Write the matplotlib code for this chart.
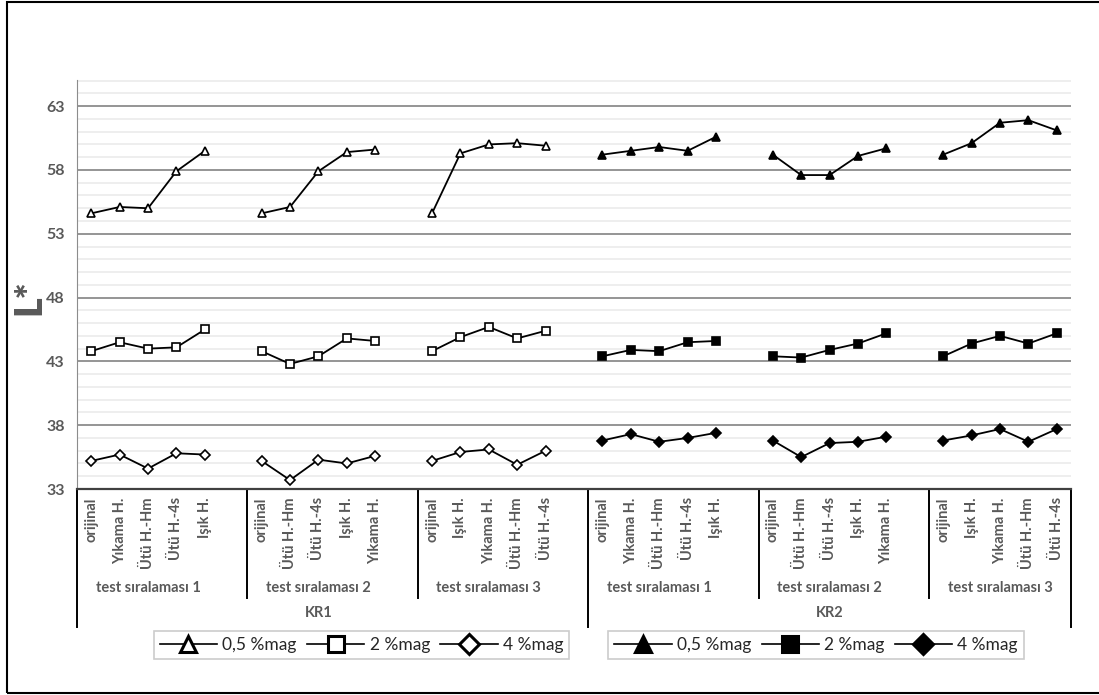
import matplotlib
matplotlib.use('Agg')

import matplotlib.pyplot as plt
from matplotlib.lines import Line2D
from matplotlib.patches import Rectangle
from matplotlib.ticker import MultipleLocator

plt.rcParams['font.family'] = ['Lato', 'DejaVu Sans']

# Dados: 2 kumaş (KR1, KR2) x 3 test sıralaması, 5 ölçüm noktası
grup_kr = ['KR1', 'KR2']
grup_test = ['test sıralaması 1', 'test sıralaması 2', 'test sıralaması 3']

etiket_1 = ['orijinal', 'Yıkama H.', 'Ütü H.-Hm', 'Ütü H.-4s', 'Işık H.']
etiket_2 = ['orijinal', 'Ütü H.-Hm', 'Ütü H.-4s', 'Işık H.', 'Yıkama H.']
etiket_3 = ['orijinal', 'Işık H.', 'Yıkama H.', 'Ütü H.-Hm', 'Ütü H.-4s']

# 0,5 %mag
kr1_05 = [[54.6, 55.1, 55.0, 57.9, 59.5],
          [54.6, 55.1, 57.9, 59.4, 59.6],
          [54.6, 59.3, 60.0, 60.1, 59.9]]
kr2_05 = [[59.2, 59.5, 59.8, 59.5, 60.6],
          [59.2, 57.6, 57.6, 59.1, 59.7],
          [59.2, 60.1, 61.7, 61.9, 61.1]]
# 2 %mag
kr1_2 = [[43.8, 44.5, 44.0, 44.1, 45.5],
         [43.8, 42.8, 43.4, 44.8, 44.6],
         [43.8, 44.9, 45.7, 44.8, 45.4]]
kr2_2 = [[43.4, 43.9, 43.8, 44.5, 44.6],
         [43.4, 43.3, 43.9, 44.4, 45.2],
         [43.4, 44.4, 45.0, 44.4, 45.2]]
# 4 %mag
kr1_4 = [[35.2, 35.7, 34.6, 35.8, 35.7],
         [35.2, 33.7, 35.3, 35.0, 35.6],
         [35.2, 35.9, 36.1, 34.9, 36.0]]
kr2_4 = [[36.8, 37.3, 36.7, 37.0, 37.4],
         [36.8, 35.5, 36.6, 36.7, 37.1],
         [36.8, 37.2, 37.7, 36.7, 37.7]]

seri_adlari = ['0,5 %mag', '2 %mag', '4 %mag']
markerler = ['^', 's', 'D']

gri = '#595959'

fig = plt.figure(figsize=(10.99, 6.95), dpi=100)
ax = fig.add_axes([0.0701, 0.2964, 0.9044, 0.5885])

etiketler = [etiket_1, etiket_2, etiket_3]
kr_veri = [[kr1_05, kr1_2, kr1_4], [kr2_05, kr2_2, kr2_4]]

# her grup 6 yuva: 5 nokta + 1 boşluk
for k in range(2):
    for t in range(3):
        g = k * 3 + t
        x = [g * 6 + i for i in range(5)]
        for s in range(3):
            y = kr_veri[k][s][t]
            fc = 'white' if k == 0 else 'black'
            ms = 6 if s != 2 else 5
            ax.plot(x, y, color='black', lw=1.3, marker=markerler[s], ms=ms,
                    mfc=fc, mec='black', mew=1.2, zorder=3)
        for i, lab in enumerate(etiketler[t]):
            ax.text(x[i], -0.02, lab, transform=ax.get_xaxis_transform(),
                    rotation=90, ha='center', va='top', fontsize=10.5,
                    color=gri, fontweight='bold')
        ax.text(g * 6 + 2, -0.242, grup_test[t], transform=ax.get_xaxis_transform(),
                ha='center', va='center', fontsize=10.5, color=gri, fontweight='bold')
    ax.text(k * 18 + 8, -0.303, grup_kr[k], transform=ax.get_xaxis_transform(),
            ha='center', va='center', fontsize=10.5, color=gri, fontweight='bold')

# ayırıcı çizgiler
for b in range(6):
    xb = b * 6 - 0.5
    alt = -0.337 if b in (0, 3) else -0.266
    ax.plot([xb, xb], [0, alt], transform=ax.get_xaxis_transform(),
            color='black', lw=1.4, clip_on=False)
ax.plot([34.5, 34.5], [0, -0.337], transform=ax.get_xaxis_transform(),
        color='black', lw=1.4, clip_on=False)

ax.set_xlim(-0.5, 34.5)
ax.set_ylim(33, 65.05)
ax.set_xticks([])
ax.yaxis.set_minor_locator(MultipleLocator(1))
ax.set_yticks([33, 38, 43, 48, 53, 58, 63])
ax.grid(axis='y', which='minor', color='#ebebeb', lw=1.2, zorder=0)
ax.grid(axis='y', which='major', color='#8c8c8c', lw=1.3, zorder=1)
ax.tick_params(axis='y', which='both', length=0, pad=9, labelsize=11.5,
               labelcolor=gri)
for lab in ax.get_yticklabels():
    lab.set_fontweight('bold')
ax.set_axisbelow(True)

for sp in ['top', 'right']:
    ax.spines[sp].set_visible(False)
ax.spines['left'].set_color('#8c8c8c')
ax.spines['bottom'].set_color('#404040')
ax.spines['bottom'].set_linewidth(1.6)

ax.set_ylabel('L*', fontsize=27, fontweight='heavy', color=gri)
ax.yaxis.set_label_coords(-0.031, 0.47)

# legends
def tutamaklar(dolu):
    fc = 'black' if dolu else 'white'
    return [Line2D([], [], color='black', lw=1.2, marker=m, ms=11 if m != 'D' else 10,
                   mfc=fc, mec='black', mew=2.2) for m in markerler]

leg1 = fig.legend(tutamaklar(False), seri_adlari, loc='center', ncol=3,
                  bbox_to_anchor=(0.329, 0.072), fontsize=12.5, frameon=True,
                  fancybox=False, edgecolor='#bfbfbf', handlelength=3.3,
                  columnspacing=0.6, handletextpad=0.3, borderpad=0.35)
leg2 = fig.legend(tutamaklar(True), seri_adlari, loc='center', ncol=3,
                  bbox_to_anchor=(0.7425, 0.072), fontsize=12.5, frameon=True,
                  fancybox=False, edgecolor='#bfbfbf', handlelength=3.3,
                  columnspacing=0.6, handletextpad=0.3, borderpad=0.35)
for leg in (leg1, leg2):
    leg.get_frame().set_linewidth(1.2)
    for t in leg.get_texts():
        t.set_color('#262626')

# dış çerçeve
fig.patches.append(Rectangle((7 / 1099, 2 / 695), 1.05, 1 - 4 / 695,
                             transform=fig.transFigure, fill=False,
                             edgecolor='black', lw=1.5))

fig.savefig('out.png', dpi=100)
